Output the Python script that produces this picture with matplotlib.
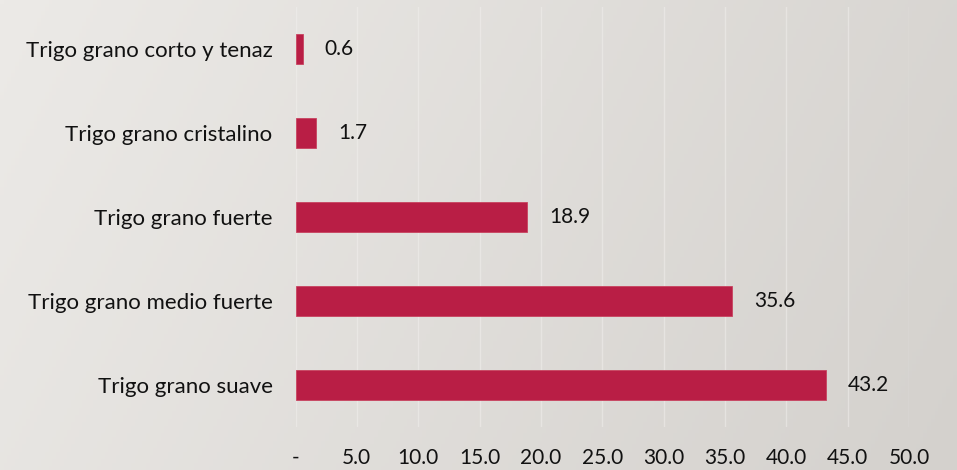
import numpy as np
import matplotlib
matplotlib.use("Agg")
import matplotlib.pyplot as plt
from matplotlib.ticker import FixedLocator, FuncFormatter

categories = ["Trigo grano corto y tenaz", "Trigo grano cristalino", "Trigo grano fuerte",
              "Trigo grano medio fuerte", "Trigo grano suave"]
values = [0.6, 1.7, 18.9, 35.6, 43.2]
xticks = [0, 5, 10, 15, 20, 25, 30, 35, 40, 45, 50]

plt.rcParams['font.family'] = ['Lato', 'DejaVu Sans']

W, H = 957, 470
fig = plt.figure(figsize=(W / 100, H / 100), dpi=100)

# background gradient
bg = fig.add_axes([0, 0, 1, 1], zorder=-10)
xx = np.linspace(0, 1, 256)
yy = np.linspace(0, 1, 128)
X, Y = np.meshgrid(xx, yy)
t = np.clip(0.8 * X + 0.2 * Y, 0, 1)
c0 = np.array([0xec, 0xea, 0xe7]) / 255
c1 = np.array([0xd4, 0xd1, 0xcd]) / 255
img = c0[None, None, :] * (1 - t[..., None]) + c1[None, None, :] * t[..., None]
bg.imshow(img, aspect='auto', extent=[0, 1, 0, 1], origin='upper')
bg.axis('off')

ax = fig.add_axes([295.5 / W, 1 - 427 / H, (909 - 295.5) / W, 420 / H])
ax.patch.set_alpha(0)
y = np.arange(len(categories))
ax.barh(y, values, height=0.35, color='#B91E45', edgecolor='#C8435F', linewidth=0.6, zorder=3)
ax.set_ylim(len(categories) - 0.5, -0.5)
ax.set_xlim(0, 50)
ax.set_yticks(y)
ax.set_yticklabels(categories, fontsize=16, color='#111111')
ax.xaxis.set_major_locator(FixedLocator(xticks))
ax.xaxis.set_major_formatter(FuncFormatter(lambda v, p: '-' if v == 0 else f'{v:.1f}'))
ax.tick_params(axis='x', length=0, pad=15, labelsize=15, labelcolor='#111111')
ax.tick_params(axis='y', length=0, pad=16.5)
ax.grid(axis='x', color='#f2f0ee', linewidth=1.0, alpha=0.5, zorder=0)
for s in ax.spines.values():
    s.set_visible(False)

for yi, v in zip(y, values):
    ax.annotate(f'{v:.1f}', xy=(v, yi), xytext=(22, 0), textcoords='offset pixels',
                va='center', ha='left', fontsize=15, color='#111111')

fig.savefig('out.png', dpi=100)
